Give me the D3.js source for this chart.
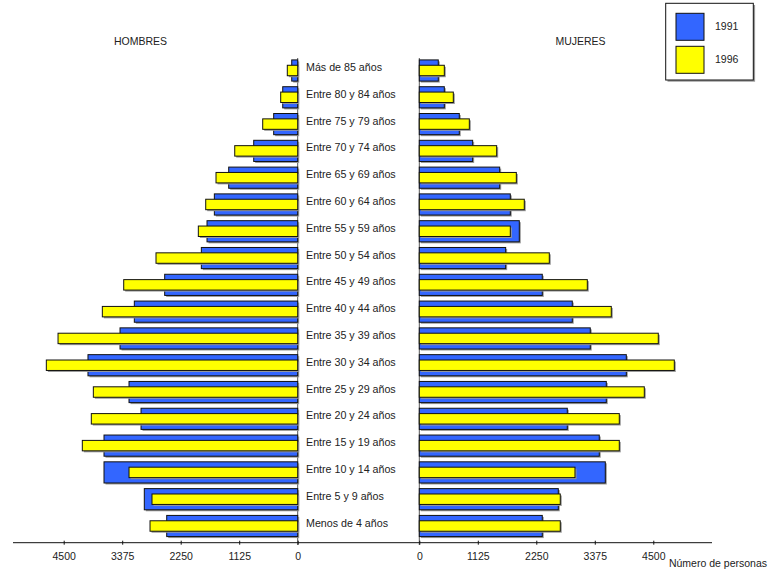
<!DOCTYPE html>
<html>
<head>
<meta charset="utf-8">
<script src="https://cdn.jsdelivr.net/npm/d3@7"></script>
<style>
  body { margin: 0; background: #fff; }
  svg { display: block; font-family: Arial, "Liberation Sans", sans-serif; }
</style>
</head>
<body>
<svg id="chart" width="769" height="576"></svg>
<script>
const categories = [
  "Menos de 4 años", "Entre 5 y 9 años", "Entre 10 y 14 años", "Entre 15 y 19 años",
  "Entre 20 y 24 años", "Entre 25 y 29 años", "Entre 30 y 34 años", "Entre 35 y 39 años",
  "Entre 40 y 44 años", "Entre 45 y 49 años", "Entre 50 y 54 años", "Entre 55 y 59 años",
  "Entre 60 y 64 años", "Entre 65 y 69 años", "Entre 70 y 74 años", "Entre 75 y 79 años",
  "Entre 80 y 84 años", "Más de 85 años"
];
const hombres1991 = [2519, 2950, 3725, 3725, 3013, 3244, 4033, 3417, 3142, 2558, 1853, 1744, 1603, 1327, 846, 462, 288, 115];
const hombres1996 = [2840, 2802, 3244, 4142, 3969, 3930, 4834, 4609, 3757, 3346, 2725, 1911, 1769, 1571, 1211, 673, 327, 200];
const mujeres1991 = [2365, 2673, 3577, 3461, 2846, 3596, 3981, 3288, 2942, 2365, 1661, 1923, 1750, 1546, 1026, 769, 481, 365];
const mujeres1996 = [2711, 2711, 2994, 3846, 3846, 4327, 4904, 4596, 3692, 3231, 2500, 1750, 2019, 1866, 1488, 962, 654, 481];
const tickValues = [0, 1125, 2250, 3375, 4500];
const seriesNames = ["1991", "1996"];
const titles = { left: "HOMBRES", right: "MUJERES", axis: "Número de personas" };

const colors = { "1991": "#3366ff", "1996": "#ffff00" };
const svg = d3.select("#chart");

const xLeft = d3.scaleLinear().domain([0, 5475]).range([297.7, 13]);
const xRight = d3.scaleLinear().domain([0, 5629]).range([419.3, 712]);
const y = d3.scalePoint().domain(categories.slice().reverse()).range([70.5, 526]);
const step = y.step();
const hBig = step * 0.79;
const hSmall = step * 0.39;
const axisY = 542.7;

// vertical lines
[297.7, 419.3].forEach(x => {
  svg.append("line").attr("x1", x).attr("x2", x).attr("y1", 58).attr("y2", 545)
    .attr("stroke", "#555").attr("stroke-width", 1);
});

function drawSide(scale, v91, v96, side) {
  const g = svg.append("g");
  const data = categories.map((c, i) => ({ c, a: v91[i], b: v96[i] }));
  const x0 = scale(0);
  const rx = d => side === "left" ? scale(d) : x0;
  const w = d => Math.abs(scale(d) - x0);
  // shadows
  g.selectAll(".sh91").data(data).join("rect")
    .attr("x", d => rx(d.a) + 1.5).attr("y", d => y(d.c) - hBig / 2 + 1.5)
    .attr("width", d => w(d.a)).attr("height", hBig).attr("fill", "#999");
  g.selectAll(".b91").data(data).join("rect")
    .attr("x", d => rx(d.a)).attr("y", d => y(d.c) - hBig / 2)
    .attr("width", d => w(d.a)).attr("height", hBig)
    .attr("fill", colors["1991"]).attr("stroke", "#111").attr("stroke-width", 1);
  g.selectAll(".sh96").data(data).join("rect")
    .attr("x", d => rx(d.b) + 1.5).attr("y", d => y(d.c) - hSmall / 2 + 1.5)
    .attr("width", d => w(d.b)).attr("height", hSmall).attr("fill", "#999");
  g.selectAll(".b96").data(data).join("rect")
    .attr("x", d => rx(d.b)).attr("y", d => y(d.c) - hSmall / 2)
    .attr("width", d => w(d.b)).attr("height", hSmall)
    .attr("fill", colors["1996"]).attr("stroke", "#111").attr("stroke-width", 1);
}
drawSide(xLeft, hombres1991, hombres1996, "left");
drawSide(xRight, mujeres1991, mujeres1996, "right");

// category labels
svg.append("g").selectAll("text").data(categories).join("text")
  .attr("x", 306).attr("y", d => y(d) + 0.5)
  .attr("font-size", "10.7px").attr("fill", "#222").text(d => d);

// baseline axis
svg.append("line").attr("x1", 13).attr("x2", 712).attr("y1", axisY).attr("y2", axisY)
  .attr("stroke", "#111").attr("stroke-width", 1);

function drawAxis(scale) {
  const g = svg.append("g").attr("transform", `translate(0,${axisY})`)
    .call(d3.axisBottom(scale).tickValues(tickValues).tickFormat(d3.format("d")).tickSizeOuter(0));
  g.select(".domain").remove();
  g.selectAll(".tick line").attr("y1", -2).attr("y2", 2).attr("stroke", "#111");
  g.selectAll(".tick text").attr("y", 17.5).attr("dy", 0)
    .attr("font-size", "10.5px").attr("font-family", "Arial, 'Liberation Sans', sans-serif").attr("fill", "#222");
}
drawAxis(xLeft);
drawAxis(xRight);

// titles
svg.append("text").attr("x", 140.5).attr("y", 44.5).attr("text-anchor", "middle")
  .attr("font-size", "10.5px").attr("fill", "#222").text(titles.left);
svg.append("text").attr("x", 580.5).attr("y", 44.5).attr("text-anchor", "middle")
  .attr("font-size", "10.5px").attr("fill", "#222").text(titles.right);
svg.append("text").attr("x", 767).attr("y", 566.5).attr("text-anchor", "end")
  .attr("font-size", "10.5px").attr("fill", "#222").text(titles.axis);

// legend
const lg = svg.append("g");
lg.append("rect").attr("x", 667.5).attr("y", 5).attr("width", 87.6).attr("height", 76.7).attr("fill", "#999");
lg.append("rect").attr("x", 665.7).attr("y", 3.3).attr("width", 87.6).attr("height", 76.7)
  .attr("fill", "#fff").attr("stroke", "#111");
seriesNames.forEach((s, i) => {
  const yy = 13.3 + i * 33;
  lg.append("rect").attr("x", 676).attr("y", yy).attr("width", 28).attr("height", 27)
    .attr("fill", colors[s]).attr("stroke", "#111");
  lg.append("text").attr("x", 715).attr("y", yy + 17).attr("font-size", "10.5px")
    .attr("fill", "#222").text(s);
});
</script>
</body>
</html>
